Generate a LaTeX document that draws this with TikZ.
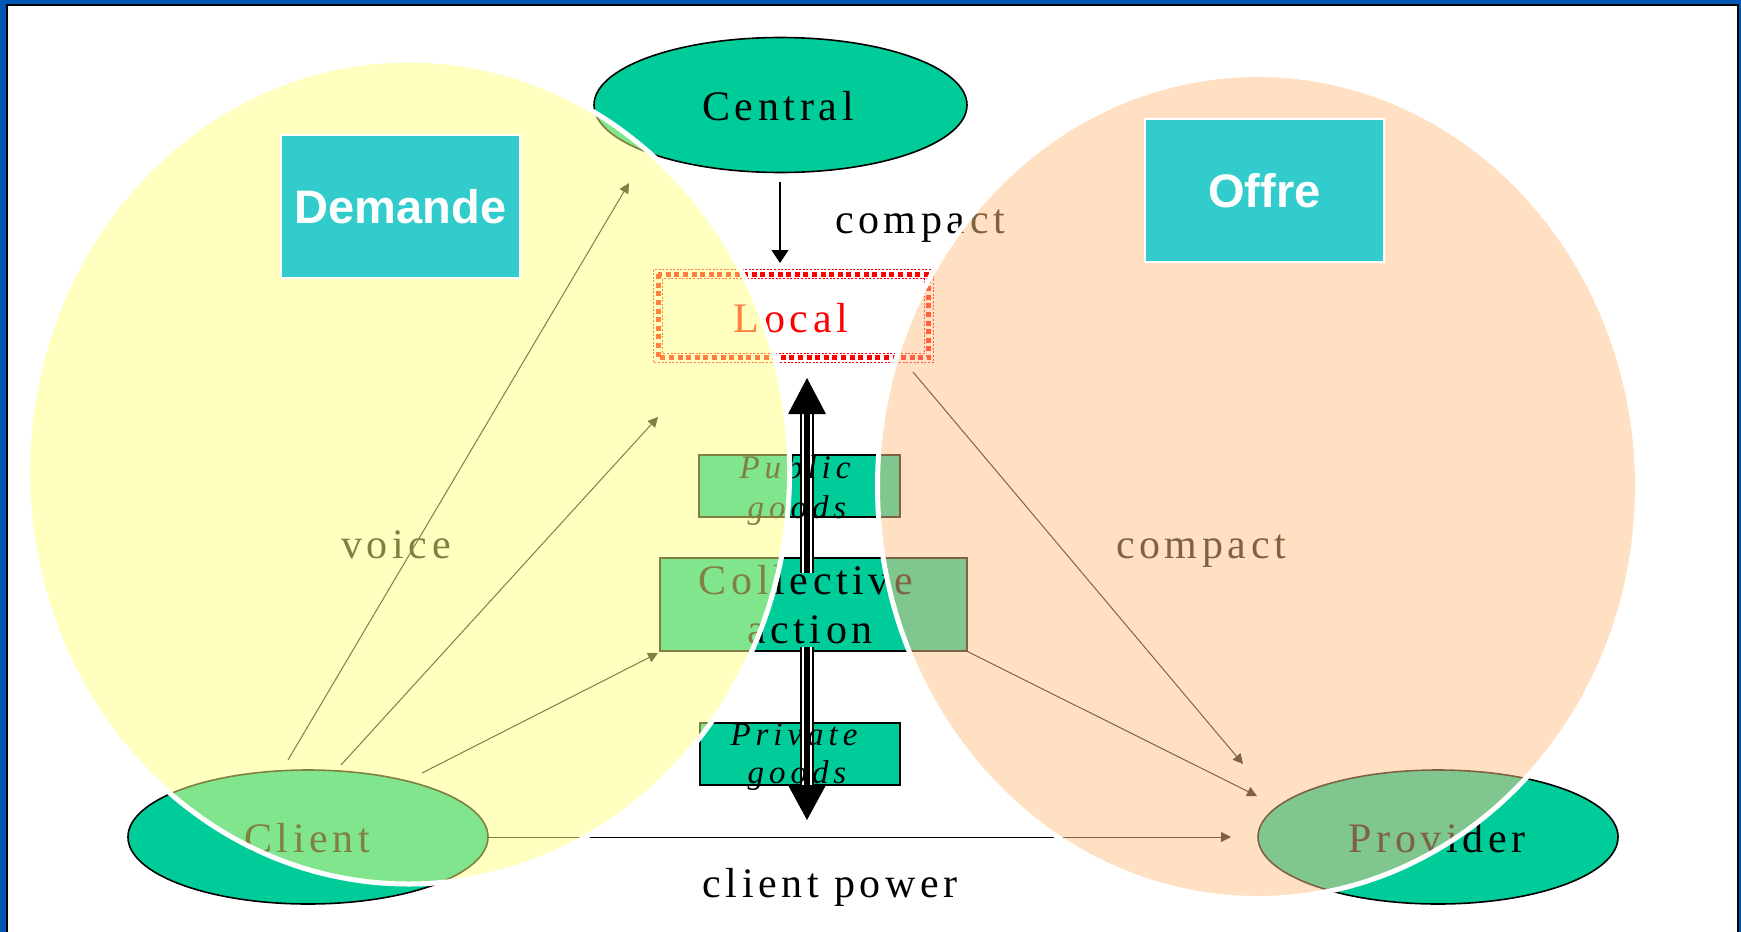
\documentclass[tikz,border=0pt]{standalone}
\usepackage{fontspec}
\setmainfont{Liberation Serif}
\newfontfamily\spaced{Liberation Serif}[LetterSpace=11]
\newfontfamily\spacedit{Liberation Serif}[LetterSpace=15]
\newfontfamily\headsans{Liberation Sans}
\usetikzlibrary{shapes.geometric,arrows.meta}
\definecolor{frameblue}{RGB}{0,88,180}
\definecolor{boxgreen}{RGB}{0,204,153}
\definecolor{tealbox}{RGB}{51,204,204}
\definecolor{yellowfill}{RGB}{255,255,130}
\definecolor{orangefill}{RGB}{255,195,135}
\definecolor{localred}{RGB}{255,0,0}
\begin{document}
\begin{tikzpicture}[x=0.5pt,y=-0.5pt,
  bigtxt/.style={font=\spaced\fontsize{21pt}{25pt}\selectfont, inner sep=0pt, anchor=base},
  smalltxt/.style={font=\spacedit\itshape\fontsize{16.5pt}{20pt}\selectfont, inner sep=0pt, anchor=base},
  greenbox/.style={draw=black, line width=0.6pt, fill=boxgreen, inner sep=0pt},
  oval/.style={ellipse, draw=black, line width=0.8pt, fill=boxgreen, inner sep=0pt},
  labelbox/.style={fill=tealbox, draw=white, line width=1pt, inner sep=0pt, text=white,
    font=\headsans\bfseries\fontsize{23.5pt}{28pt}\selectfont},
  conn/.style={-{Triangle[length=5pt,width=5pt]}, line width=0.5pt},
  overlay/.style={draw=white, line width=2.5pt, fill opacity=0.5},
]
\useasboundingbox (0,0) rectangle (1741,932);
% slide frame
\fill[frameblue] (0,0) rectangle (1741,932);
\fill[white] (7,5) rectangle (1737,932);
\draw[line width=1pt] (7,932) -- (7,5) -- (1737.5,5) -- (1737.5,932);

% Central
\node[oval, minimum width=186.5pt, minimum height=67.5pt] (central) at (780.5,105) {};
\node[bigtxt] (centraltxt) at (778,120) {Central};

% boxes
\node[greenbox, minimum width=100.5pt, minimum height=31pt] (public) at (799.5,486) {};
\node[greenbox, minimum width=153.5pt, minimum height=46.5pt] (collective) at (813.5,604.5) {};
\node[greenbox, minimum width=100pt, minimum height=31pt] (private) at (800,754) {};

% local box
\node[minimum width=139.5pt, minimum height=46pt, inner sep=0pt] (local) at (793.5,316) {};
\draw[localred, line width=2.5pt, dash pattern=on 2.5pt off 1.8pt]
  ([shift={(4.5,4.5)}]local.north west) rectangle ([shift={(-4.5,-4.5)}]local.south east);
\draw[localred, line width=0.4pt, dash pattern=on 1pt off 0.8pt]
  (local.north west) rectangle (local.south east);
\draw[localred, line width=0.4pt, dash pattern=on 1pt off 0.8pt]
  ([shift={(9,9)}]local.north west) rectangle ([shift={(-9,-9)}]local.south east);
\node[bigtxt, text=localred] (localtxt) at (791,332) {Local};

% Client / Provider
\node[oval, minimum width=180pt, minimum height=67pt] (client) at (308,837) {};
\node[oval, minimum width=180pt, minimum height=67pt] (provider) at (1438,837) {};

% double arrow
\coordinate (upS) at (807,573);
\coordinate (upB) at (807,414);
\coordinate (upT) at (807,378);
\coordinate (dnS) at (807,647);
\coordinate (dnB) at (807,785);
\coordinate (dnT) at (807,820);
\foreach \a/\b in {upS/upB, dnS/dnB}{
  \draw[line width=7pt] (\a) -- (\b);
  \draw[white, line width=4.6pt] (\a) -- (\b);
  \draw[line width=2.6pt] (\a) -- (\b);
}
\fill (upT) -- ([xshift=-19*0.5pt]upB) -- ([xshift=19*0.5pt]upB) -- cycle;
\fill (dnT) -- ([xshift=-19*0.5pt]dnB) -- ([xshift=19*0.5pt]dnB) -- cycle;

% texts in boxes
\node[smalltxt] (pub1) at (795,478) {Public};
\node[smalltxt] (pub2) at (797,518) {goods};
\node[bigtxt] (col1) at (806,594) {Collective};
\node[bigtxt] (col2) at (810,643) {action};
\node[smalltxt] (pri1) at (794,745) {Private};
\node[smalltxt] (pri2) at (797,783) {goods};
\node[bigtxt] (clienttxt) at (307,852) {Client};
\node[bigtxt] (providertxt) at (1437,852) {Provider};

% free labels
\node[bigtxt] (voice) at (396,558) {voice};
\node[bigtxt] (compactR) at (1201,558) {compact};
\node[bigtxt] (compactT) at (920,233) {compact};
\node[bigtxt] (power) at (830,897) {client power};

% connectors
\coordinate (c1s) at (288,760);  \coordinate (c1e) at (629,183);
\coordinate (c2s) at (341,765);  \coordinate (c2e) at (658,417);
\coordinate (c3s) at (422,773);  \coordinate (c3e) at (658,653);
\coordinate (ptip) at (1231,837);
\coordinate (lps) at (913,372);  \coordinate (lpe) at (1243,764);
\coordinate (cpe) at (1257,796);
\coordinate (cls) at (780,182);  \coordinate (cle) at (780,263);
\draw[conn] (c1s) -- (c1e);
\draw[conn] (c2s) -- (c2e);
\draw[conn] (c3s) -- (c3e);
\draw[conn] (client.east) -- (ptip);
\draw[conn] (lps) -- (lpe);
\draw[conn] (collective.south east) -- (cpe);
\draw[-{Triangle[length=6.5pt,width=8.5pt]}, line width=0.6pt] (cls) -- (cle);

% overlay circles
\path[overlay, fill=yellowfill] (408.6,472) ellipse [x radius=381, y radius=412];
\path[overlay, fill=orangefill] (1257.5,486.5) ellipse [x radius=380, y radius=412];

% Demande / Offre
\node[labelbox, minimum width=119.5pt, minimum height=71.5pt] (demande) at (400.5,206.5) {Demande};
\node[labelbox, minimum width=119.5pt, minimum height=71.5pt] (offre) at (1264.5,190.5) {Offre};
\end{tikzpicture}
\end{document}
